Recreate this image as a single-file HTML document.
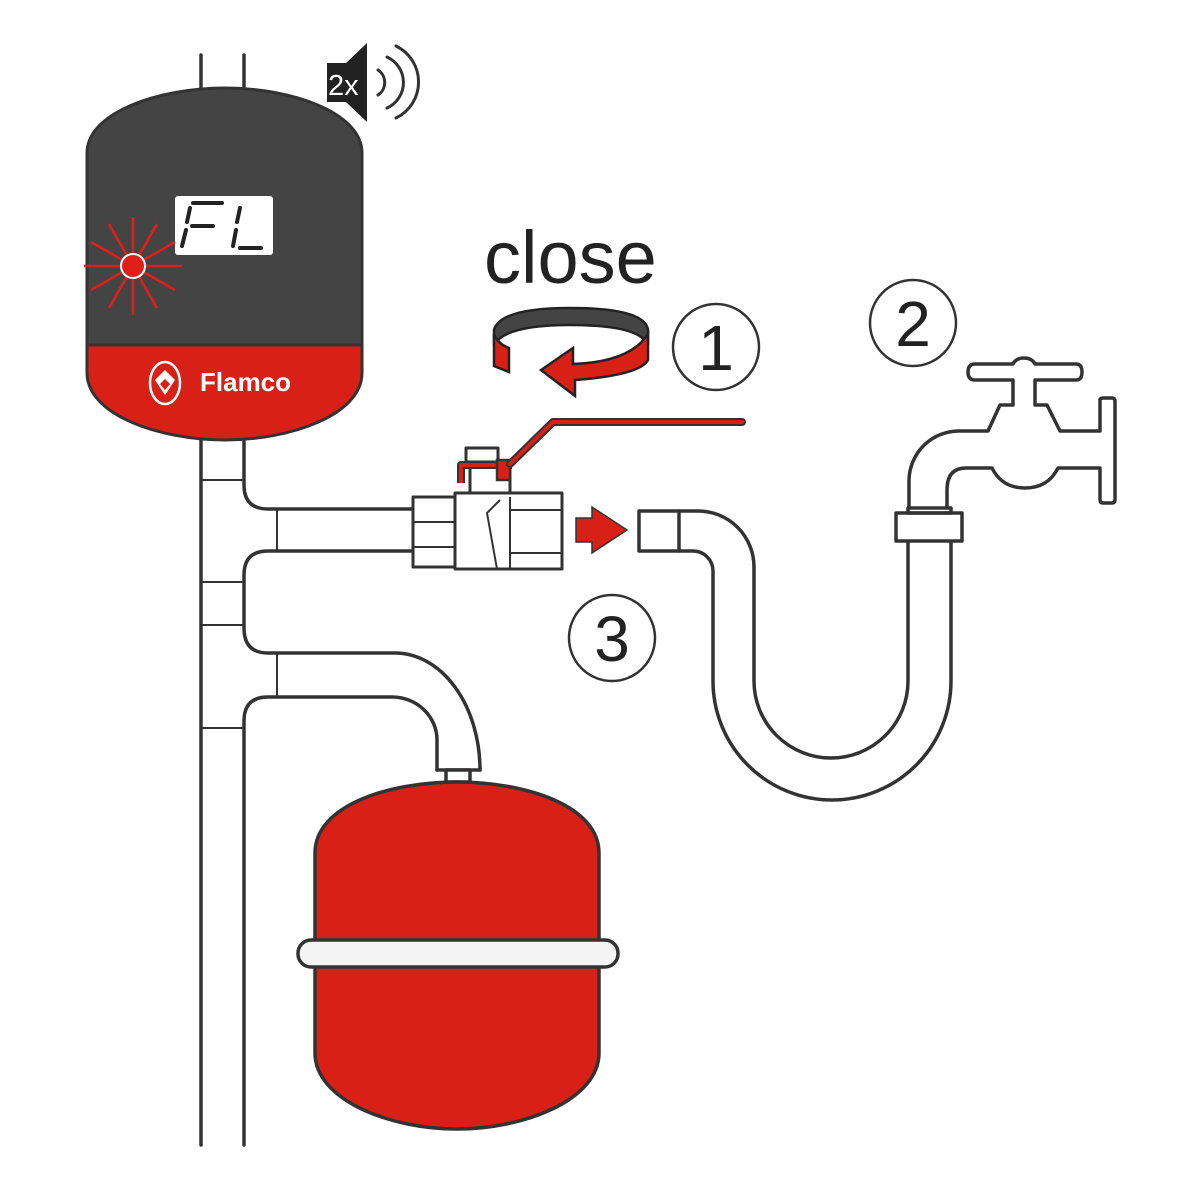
<!DOCTYPE html>
<html><head><meta charset="utf-8"><style>
html,body{margin:0;padding:0;background:#fff;}
svg{display:block;}
</style></head><body>
<svg width="1200" height="1200" viewBox="0 0 1200 1200" xmlns="http://www.w3.org/2000/svg">
<g fill="none" stroke="#333" stroke-width="3.5" stroke-linecap="round" stroke-linejoin="round">
  <line x1="201" y1="55" x2="201" y2="1145"/>
  <line x1="244" y1="55" x2="244" y2="100"/>
  <path d="M244 440 L244 485 Q244 509 268 509 L413 509"/>
  <path d="M413 551 L268 551 Q244 551 244 575 L244 628 Q244 653 268 653 L395 653 A85 117 0 0 1 480 770"/>
  <path d="M437 770 L437 740 A45 43 0 0 0 392 697 L268 697 Q244 697 244 721 L244 1145"/>
  <g stroke-width="2">
    <line x1="277" y1="509" x2="277" y2="551"/>
    <line x1="277" y1="653" x2="277" y2="697"/>
    <line x1="201" y1="480" x2="244" y2="480"/>
    <line x1="201" y1="582" x2="244" y2="582"/>
    <line x1="201" y1="625" x2="244" y2="625"/>
    <line x1="201" y1="728" x2="244" y2="728"/>
  </g>
  <line x1="437" y1="770" x2="480" y2="770"/>
  <rect x="446" y="770" width="24" height="12" fill="#fff"/>
</g>

<path d="M315 853 C315 805 390 782 457 782 C524 782 599 805 599 853 L599 1053 C599 1100 524 1129 457 1129 C390 1129 315 1100 315 1053 Z" fill="#d92016" stroke="#333" stroke-width="3.5"/>
<rect x="298" y="940" width="320" height="27" rx="13" fill="#f4f4f4" stroke="#333" stroke-width="3.5"/>

<path d="M87 153 C87 112 160 88 225 88 C290 88 362 112 362 153 L362 345 L87 345 Z" fill="#444" stroke="#333" stroke-width="3"/>
<path d="M87 345 L362 345 L362 373 C362 415 290 440 225 440 C160 440 87 415 87 373 Z" fill="#d92016" stroke="#333" stroke-width="3"/>
<rect x="175" y="196" width="98" height="59" rx="3" fill="#fff"/>
<g fill="none" stroke="#222" stroke-width="4" stroke-linecap="round">
  <path d="M193 203 L222 203"/>
  <path d="M190 208 L187 222"/>
  <path d="M186 230 L182 246"/>
  <path d="M192 226 L213 226"/>
  <path d="M240 208 L237 222"/>
  <path d="M236 230 L233 246"/>
  <path d="M240 248 L261 248"/>
</g>
<g stroke="#e02018" stroke-width="2.5">
  <line x1="84" y1="266" x2="182" y2="266"/>
  <line x1="133" y1="217" x2="133" y2="315"/>
  <line x1="91" y1="242" x2="175" y2="290"/>
  <line x1="91" y1="290" x2="175" y2="242"/>
  <line x1="109" y1="224" x2="157" y2="308"/>
  <line x1="109" y1="308" x2="157" y2="224"/>
</g>
<circle cx="133" cy="266" r="12" fill="#e02018" stroke="#fff" stroke-width="2"/>
<ellipse cx="165" cy="383" rx="15" ry="21" fill="none" stroke="#fff" stroke-width="2.5"/>
<path d="M155 380 L165 370 L175 380 L165 395 Z" fill="#fff"/>
<path d="M160 384 L165 379 L170 384 L165 390 Z" fill="#d92016"/>
<text x="200" y="391" font-family="Liberation Sans, sans-serif" font-size="26" font-weight="bold" fill="#fff">Flamco</text>

<path d="M327 63 L346 63 L367 43 L367 122 L346 102 L327 102 Z" fill="#222"/>
<text x="328" y="95" font-family="Liberation Sans, sans-serif" font-size="29" fill="#fff">2x</text>
<g fill="none" stroke="#333" stroke-width="3" stroke-linecap="round">
  <path d="M378 70 A15 15 0 0 1 378 95"/>
  <path d="M387 57 A28 28 0 0 1 387 108"/>
  <path d="M396 46 A40 40 0 0 1 396 118"/>
</g>

<text x="484" y="283" font-family="Liberation Sans, sans-serif" font-size="74" fill="#222">close</text>

<path d="M494 330 Q500 308 570 308 Q645 308 648 330 L648 345 Q640 325 570 325 Q505 325 494 345 Z" fill="#444" stroke="#222" stroke-width="2.5"/>
<path d="M494 334 L494 366 L509 372 L509 348 Q498 344 494 334 Z" fill="#d92016" stroke="#222" stroke-width="2.5"/>
<path d="M648 334 L648 360 Q640 375 575 380 L575 396 L541 370 L573 348 L573 364 Q630 362 648 334 Z" fill="#d92016" stroke="#222" stroke-width="2.5"/>

<g fill="none" stroke="#333" stroke-width="2.5">
  <circle cx="716" cy="347" r="43"/>
  <circle cx="913" cy="323" r="43"/>
  <circle cx="612" cy="638" r="43"/>
</g>
<g font-family="Liberation Sans, sans-serif" font-size="64" fill="#222" text-anchor="middle">
  <text x="716" y="370">1</text>
  <text x="913" y="346">2</text>
  <text x="612" y="661">3</text>
</g>

<g fill="#fff" stroke="#333" stroke-width="3" stroke-linejoin="round">
  <rect x="466" y="448" width="32" height="14"/>
  <rect x="470" y="462" width="40" height="35"/>
  <rect x="413" y="497" width="42" height="70"/>
  <rect x="455" y="493" width="107" height="76"/>
</g>
<g stroke="#333" stroke-width="2" fill="none">
  <line x1="413" y1="522" x2="455" y2="522"/>
  <line x1="413" y1="547" x2="455" y2="547"/>
  <line x1="510" y1="510" x2="562" y2="510"/>
  <line x1="510" y1="553" x2="562" y2="553"/>
  <line x1="510" y1="497" x2="510" y2="569"/>
  <path d="M497 569 L487 513 L500 500"/>
</g>
<path d="M461 483 L461 465 L512 465" fill="none" stroke="#333" stroke-width="8" stroke-linejoin="round"/>
<path d="M461 483 L461 465 L512 465" fill="none" stroke="#d92016" stroke-width="4" stroke-linejoin="round"/>
<rect x="497" y="460" width="13" height="20" fill="#d92016" stroke="#333" stroke-width="2.5"/>
<path d="M510 464 L553 422 L742 422" fill="none" stroke="#333" stroke-width="8" stroke-linejoin="round" stroke-linecap="round"/>
<path d="M510 464 L553 422 L742 422" fill="none" stroke="#d92016" stroke-width="4" stroke-linejoin="round" stroke-linecap="round"/>

<path d="M576 518 L592 518 L592 507 L627 530 L592 553 L592 542 L576 542 Z" fill="#d92016" stroke="#333" stroke-width="1.5"/>

<g fill="none" stroke="#333" stroke-width="3.5" stroke-linejoin="round">
  <rect x="639" y="511" width="40" height="40" fill="#fff"/>
  <path d="M679 511 L698 511 A56 56 0 0 1 754 567 L754 681 A77 77 0 0 0 908 681 L908 541"/>
  <path d="M679 551 L693 551 A20 20 0 0 1 713 571 L713 681 A119 119 0 0 0 951 681 L951 541"/>
  <rect x="896" y="513" width="66" height="28" fill="#fff"/>
  <rect x="908" y="508" width="43" height="5"/>
  <path d="M909 508 L909 480 A50 50 0 0 1 959 431 L988 431 L1000 405 L1013 405 L1013 380 L975 380 Q968 380 968 372 Q968 364 975 364 L1013 364 Q1016 358 1024 358 Q1032 358 1035 364 L1076 364 Q1082 364 1082 372 Q1082 380 1076 380 L1035 380 L1035 405 L1047 405 L1060 431 L1100 431 L1100 400 Q1100 398 1103 398 L1112 398 Q1115 398 1115 401 L1115 500 Q1115 503 1112 503 L1103 503 Q1100 503 1100 500 L1100 468 L1058 468 Q1048 488 1025 488 Q1002 488 992 468 L966 468 Q947 468 947 490 L947 508"/>
</g>
</svg>
</body></html>
